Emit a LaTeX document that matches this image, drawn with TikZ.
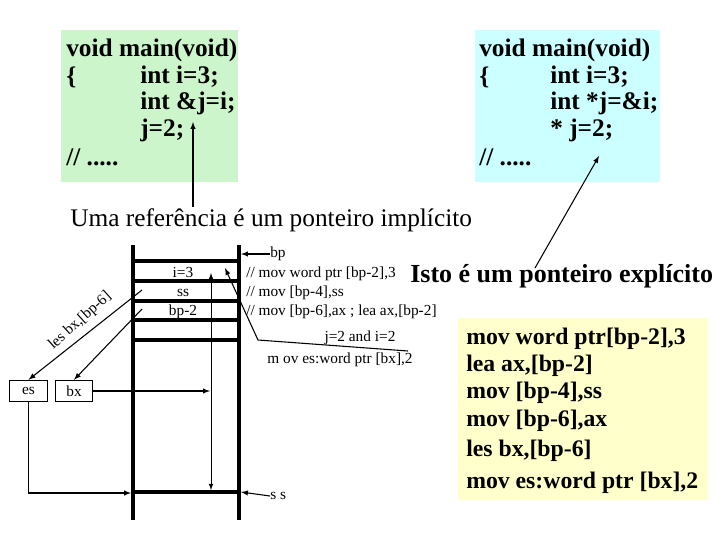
\documentclass[tikz,border=0pt]{standalone}
\usepackage{fontspec}
\setmainfont{Liberation Serif}
\begin{document}
\begin{tikzpicture}[x=0.75pt,y=-0.75pt,
  big/.style={anchor=west,inner sep=0,font=\fontsize{19}{21}\selectfont\bfseries},
  mid/.style={inner sep=0,font=\fontsize{19}{21}\selectfont},
  sm/.style={inner sep=0,font=\fontsize{11.5}{13}\selectfont},
  asm/.style={anchor=west,inner sep=0,font=\fontsize{17.8}{20}\selectfont\bfseries},
  bar/.style={line width=2.5pt},
  arr/.style={-latex,line width=0.8pt}]
\useasboundingbox (0,0) rectangle (720,540);
\fill[white] (0,0) rectangle (720,540);
\definecolor{gbox}{RGB}{204,245,204}
\definecolor{cbox}{RGB}{204,255,255}
\definecolor{ybox}{RGB}{255,255,204}
\fill[gbox] (61,30) rectangle (238,182);
\fill[cbox] (475,30) rectangle (660,182);
\fill[ybox] (458,318) rectangle (708,500);
% green code
\node[big] (g1) at (66,50) {void main(void)};
\node[big] (g2) at (66,77) {\{};
\node[big] (g3) at (140,77) {int i=3;};
\node[big] (g4) at (140,103) {int \&j=i;};
\node[big] (g5) at (140,130) {j=2;};
\node[big] (g6) at (66,157) {// .....};
% cyan code
\node[big] (c1) at (479,50) {void main(void)};
\node[big] (c2) at (479,77) {\{};
\node[big] (c3) at (550,77) {int i=3;};
\node[big] (c4) at (550,103) {int *j=\&i;};
\node[big] (c5) at (550,130) {* j=2;};
\node[big] (c6) at (479,157) {// .....};
% yellow asm
\node[asm] (y1) at (466,339) {mov word ptr[bp-2],3};
\node[asm] (y2) at (466,366) {lea ax,[bp-2]};
\node[asm] (y3) at (466,393) {mov [bp-4],ss};
\node[asm] (y4) at (466,421) {mov [bp-6],ax};
\node[asm] (y5) at (466,451) {les bx,[bp-6]};
\node[asm] (y6) at (466,483) {mov es:word ptr [bx],2};
% captions
\node[mid,anchor=west] (uma) at (70,220) {Uma referência é um ponteiro implícito};
\node[mid,anchor=west,font=\fontsize{19.5}{21}\selectfont\bfseries] (isto) at (410,276) {Isto é um ponteiro explícito};
\coordinate (umatop) at (193,207);
\coordinate (gtip) at (193,122);
\draw[arr] (umatop) -- (gtip);
\coordinate (istotop) at (535,268);
\coordinate (ctip) at (599,156);
\draw[arr] (istotop) -- (ctip);
% stack
\draw[bar] (133,245) -- (133,520);
\draw[bar] (239,245) -- (239,520);
\foreach \yy in {261,281,301,320,340,492} \draw[bar] (133,\yy) -- (239,\yy);
\node[sm] (li) at (183,272) {i=3};
\node[sm] (ls) at (183,293) {ss};
\node[sm] (lb) at (183,312) {bp-2};
\draw[latex-latex,line width=0.6pt] (211,273) -- (211,490);
\node[sm,anchor=west] (bp) at (270,254) {bp};
\draw[arr] (bp.west) -- (241,254);
\node[sm,anchor=west] (ssl) at (270,496) {s s};
\draw[arr] (ssl.west) -- (241,492);
\node[sm,anchor=west] (k1) at (246,274) {// mov word ptr [bp-2],3};
\node[sm,anchor=west] (k2) at (246,293) {// mov [bp-4],ss};
\node[sm,anchor=west] (k3) at (246,312) {// mov [bp-6],ax ; lea ax,[bp-2]};
\node[sm] (k4) at (360,338) {j=2 and i=2};
\node[sm] (k5) at (340,360) {m ov es:word ptr [bx],2};
\coordinate (ln1) at (408,351);
\coordinate (ln2) at (258,340);
\coordinate (ln3) at (225,268);
\draw[arr] (ln1) -- (ln2) -- (ln3);
% registers
\node[sm,draw,line width=0.8pt,minimum width=28,minimum height=16] (es) at (28.5,391) {es};
\node[sm,draw,line width=0.8pt,minimum width=28,minimum height=16] (bx) at (74,391) {bx};
\coordinate (s1) at (142,290);
\coordinate (s2) at (142,309);
\draw[arr] (s1) -- (es.north);
\draw[arr] (s2) -- (bx.north);
\node[sm,rotate=42] (les) at (80,321) {les bx,[bp-6]};
\coordinate (bxt) at (210,391);
\draw[arr] (bx.east) -- (bxt);
\coordinate (esb) at (131,493);
\draw[arr] (es.south) |- (esb);
\end{tikzpicture}
\end{document}
